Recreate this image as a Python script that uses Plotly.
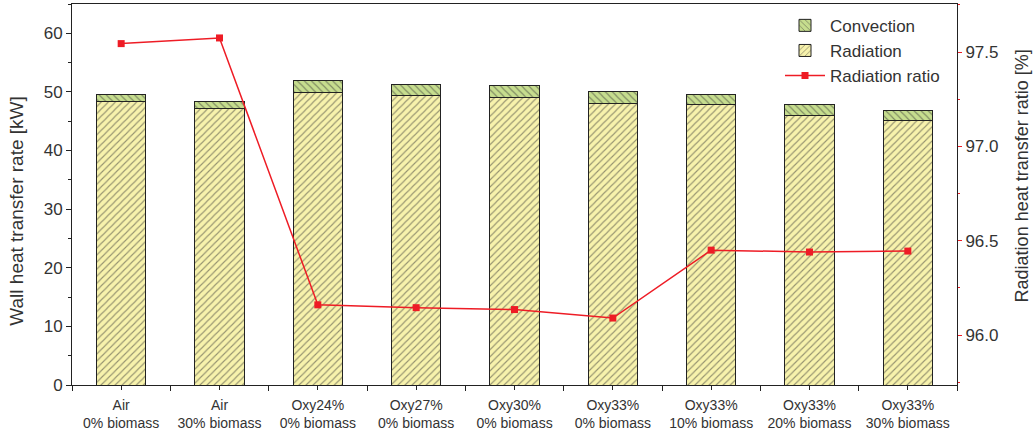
import plotly.graph_objects as go

categories = ["Air<br>0% biomass", "Air<br>30% biomass", "Oxy24%<br>0% biomass",
              "Oxy27%<br>0% biomass", "Oxy30%<br>0% biomass", "Oxy33%<br>0% biomass",
              "Oxy33%<br>10% biomass", "Oxy33%<br>20% biomass", "Oxy33%<br>30% biomass"]
radiation = [48.35, 47.2, 49.9, 49.35, 49.1, 48.0, 47.8, 46.0, 45.1]
convection = [1.25, 1.2, 2.0, 1.95, 2.0, 2.0, 1.8, 1.8, 1.7]
radiation_ratio = [97.545, 97.575, 96.16, 96.145, 96.135, 96.09, 96.45, 96.44, 96.445]
left_title = "Wall heat transfer rate [kW]"
right_title = "Radiation heat transfer ratio [%]"

xpos = list(range(len(categories)))
txt = "#333333"
font_family = "Liberation Sans, Arial, sans-serif"

fig = go.Figure()
fig.add_trace(go.Bar(
    x=xpos, y=radiation, name="Radiation", width=0.5, legendrank=2,
    marker=dict(color="#f7f2ac", line=dict(color="#222222", width=1),
                pattern=dict(shape="/", fgcolor="#333333", bgcolor="#f7f2ac",
                             size=5, solidity=0.22, fillmode="overlay")),
))
fig.add_trace(go.Bar(
    x=xpos, y=convection, name="Convection", width=0.5, legendrank=1,
    marker=dict(color="#c6dd8e", line=dict(color="#222222", width=1),
                pattern=dict(shape="\\", fgcolor="#333333", bgcolor="#c6dd8e",
                             size=5, solidity=0.22, fillmode="overlay")),
))
fig.add_trace(go.Scatter(
    x=xpos, y=radiation_ratio, name="Radiation ratio", yaxis="y2", legendrank=3,
    mode="lines+markers", line=dict(color="#ee1c25", width=1.5),
    marker=dict(symbol="square", size=7, color="#ee1c25"),
))

fig.update_layout(
    width=1035, height=432,
    margin=dict(l=72, r=78, t=4, b=47, autoexpand=False),
    barmode="stack",
    plot_bgcolor="white", paper_bgcolor="white",
    font=dict(family=font_family, color=txt, size=14),
    showlegend=True,
    legend=dict(x=0.80, y=0.99, xanchor="left", yanchor="top",
                traceorder="normal",
                font=dict(size=17, color=txt), bgcolor="rgba(0,0,0,0)",
                tracegroupgap=0, itemwidth=40),
    xaxis=dict(
        range=[-0.5, len(categories) - 0.5], automargin=False,
        tickmode="array", tickvals=xpos, ticktext=categories,
        ticks="outside", ticklen=4, tickcolor="#222222",
        showline=True, linecolor="#222222", linewidth=1, mirror=True,
        showgrid=False, zeroline=False, ticklabelstandoff=3,
        tickfont=dict(size=14, color=txt),
        minor=dict(tickmode="linear", tick0=0.5, dtick=1, ticks="outside",
                   ticklen=5, tickcolor="#222222", showgrid=False),
    ),
    yaxis=dict(
        range=[0, 65], tickmode="linear", tick0=0, dtick=10, automargin=False,
        ticks="outside", ticklen=5, tickcolor="#222222",
        showline=True, linecolor="#222222", linewidth=1,
        showgrid=False, zeroline=False,
        tickfont=dict(size=17, color=txt),
        minor=dict(tickmode="linear", tick0=0, dtick=5, ticks="outside",
                   ticklen=3, tickcolor="#222222", showgrid=False),
    ),
    yaxis2=dict(
        overlaying="y", side="right", automargin=False,
        range=[95.735, 97.755], tickmode="linear", tick0=96.0, dtick=0.5,
        tickformat=".1f",
        ticks="outside", ticklen=4, tickcolor="#ee1c25",
        showline=True, linecolor="#222222", linewidth=1,
        showgrid=False, zeroline=False,
        tickfont=dict(size=17, color=txt),
        minor=dict(tickmode="linear", tick0=95.75, dtick=0.25, ticks="outside",
                   ticklen=2, tickcolor="#ee1c25", showgrid=False),
    ),
    annotations=[
        dict(text=left_title, xref="paper", yref="paper", x=-0.0621, y=0.455,
             xanchor="center", yanchor="middle", textangle=-90, showarrow=False,
             font=dict(size=19, color=txt)),
        dict(text=right_title, xref="paper", yref="paper", x=1.0734, y=0.55,
             xanchor="center", yanchor="middle", textangle=-90, showarrow=False,
             font=dict(size=18, color=txt)),
    ],
)

fig.write_html("out.html", config={"displayModeBar": False},
               post_script="document.body.style.margin='0';document.body.style.padding='0';")
